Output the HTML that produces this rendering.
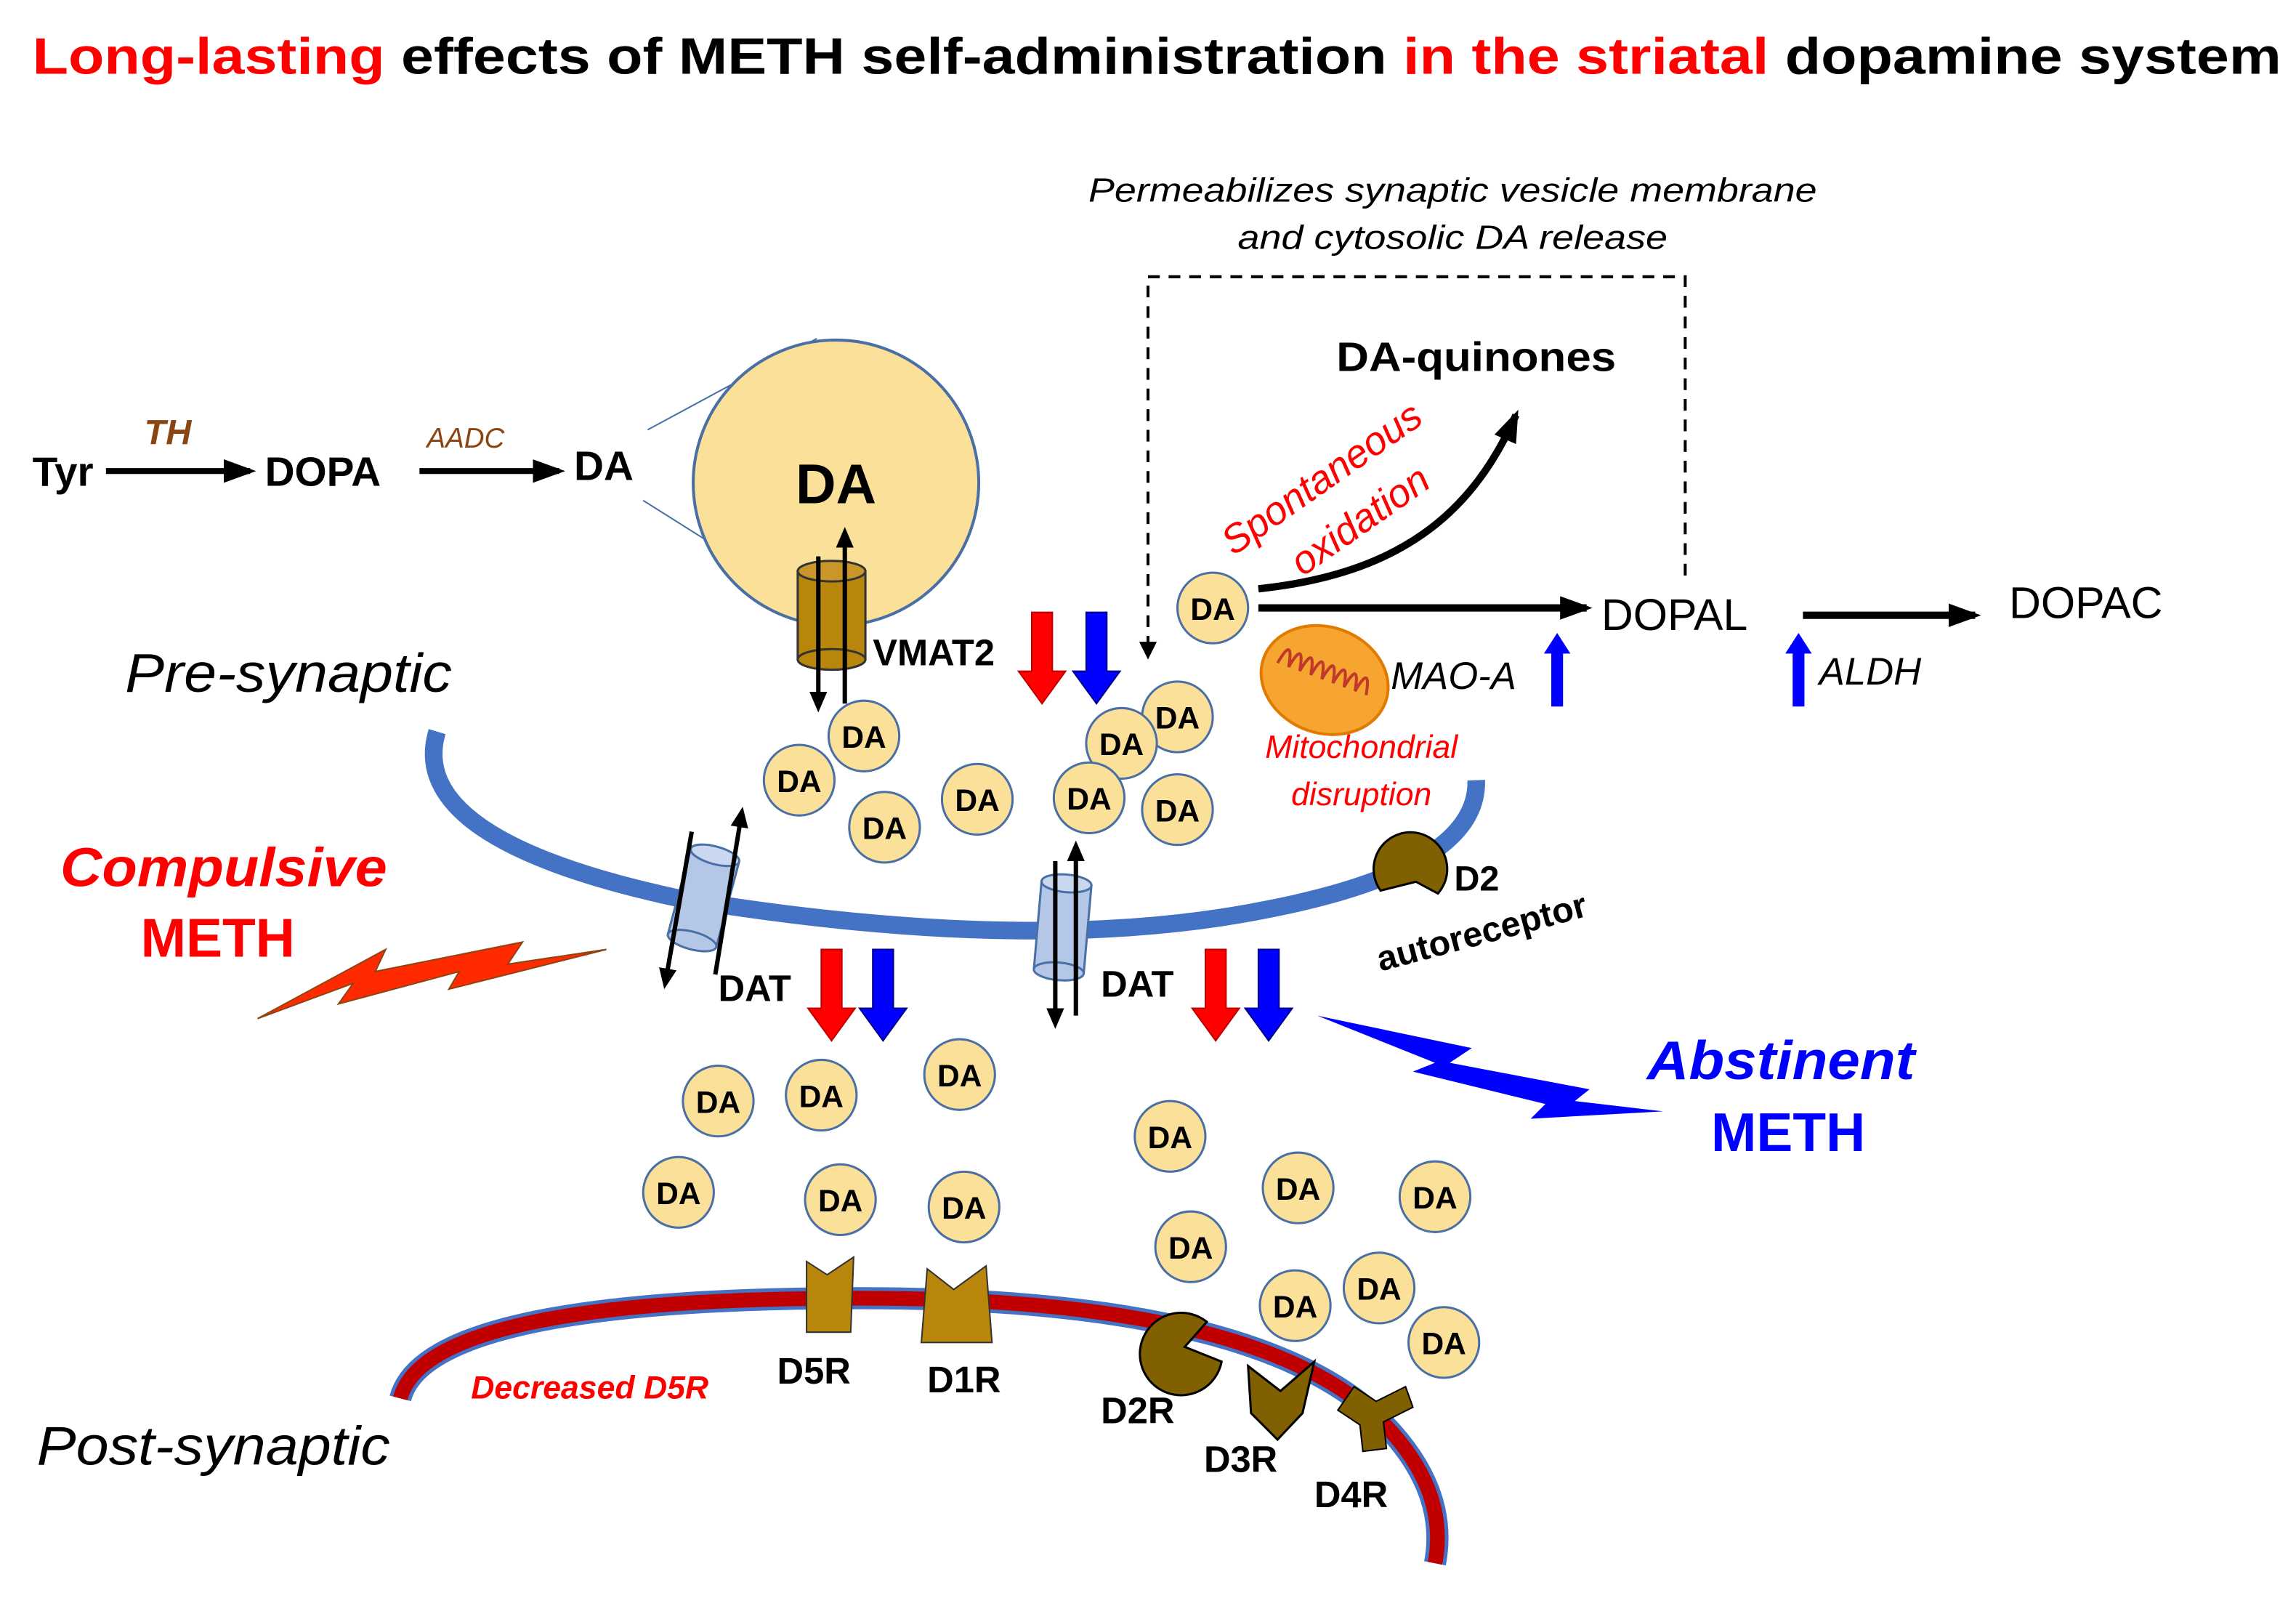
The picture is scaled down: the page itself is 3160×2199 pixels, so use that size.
<!DOCTYPE html>
<html><head><meta charset="utf-8"><style>
html,body{margin:0;padding:0;background:#fff}
svg{display:block}
text{font-family:"Liberation Sans",Arial,sans-serif}
</style></head><body>
<svg width="3160" height="2199" viewBox="0 0 1560 1085.6" preserveAspectRatio="none" xmlns="http://www.w3.org/2000/svg">
<defs>
<marker id="ah" markerWidth="22" markerHeight="18" refX="18" refY="8" orient="auto" markerUnits="userSpaceOnUse"><path d="M0,0 L22,8 L0,16 z" fill="#000"/></marker>
<marker id="ahm" markerWidth="14" markerHeight="12" refX="10" refY="6" orient="auto" markerUnits="userSpaceOnUse"><path d="M0,0 L14,6 L0,12 z" fill="#000"/></marker>
<g id="da"><circle r="24" fill="#FBE09A" stroke="#4a6fa5" stroke-width="1.5"/><text y="8" text-anchor="middle" font-size="21" font-weight="bold">DA</text></g>
<g id="rd"><path d="M-7,0 h14 v40 h9 l-16,22 l-16,-22 h9 z" fill="#ff0000" stroke="#c00000" stroke-width="1"/></g>
<g id="bd"><path d="M-7,0 h14 v40 h9 l-16,22 l-16,-22 h9 z" fill="#0000ff" stroke="#00008b" stroke-width="1"/></g>
<g id="bu"><path d="M-4,50 h8 v-36 h5 l-9,-14 l-9,14 h5 z" fill="#0000ff"/></g>
<g id="cyl"><rect x="-17" y="-30" width="34" height="60" fill="#b4c7e7" stroke="#4a6fa5" stroke-width="1.5"/><ellipse cx="0" cy="-30" rx="17" ry="6" fill="#c9d7ef" stroke="#4a6fa5" stroke-width="1.5"/><ellipse cx="0" cy="30" rx="17" ry="6" fill="#b4c7e7" stroke="#4a6fa5" stroke-width="1.5"/></g>
</defs>

<!-- Title -->
<text x="22" y="50" font-size="35" font-weight="bold" textLength="1528" lengthAdjust="spacingAndGlyphs"><tspan fill="#ff0000">Long-lasting</tspan><tspan fill="#000"> effects of METH self-administration </tspan><tspan fill="#ff0000">in the striatal</tspan><tspan fill="#000"> dopamine system</tspan></text>

<!-- synthesis -->
<text x="22" y="330" font-size="28" font-weight="bold">Tyr</text>
<text x="98" y="302" font-size="24" font-weight="bold" font-style="italic" fill="#8B4513">TH</text>
<line x1="72" y1="320" x2="170" y2="320" stroke="#000" stroke-width="4" marker-end="url(#ah)"/>
<text x="180" y="330" font-size="28" font-weight="bold">DOPA</text>
<text x="290" y="304" font-size="19" font-style="italic" fill="#8B4513">AADC</text>
<line x1="285" y1="320" x2="380" y2="320" stroke="#000" stroke-width="4" marker-end="url(#ah)"/>
<text x="390" y="326" font-size="28" font-weight="bold">DA</text>

<!-- vesicle -->
<line x1="555" y1="230" x2="440" y2="292" stroke="#4a6fa5" stroke-width="1"/>
<line x1="437" y1="340" x2="545" y2="408" stroke="#4a6fa5" stroke-width="1"/>
<circle cx="568" cy="328" r="97" fill="#FBE09A" stroke="#4a6fa5" stroke-width="2"/>
<text x="568" y="342" font-size="38" font-weight="bold" text-anchor="middle">DA</text>
<rect x="542" y="388" width="46" height="60" fill="#b8860b" stroke="#333" stroke-width="1.5"/>
<ellipse cx="565" cy="388" rx="23" ry="7" fill="#c9962a" stroke="#333" stroke-width="1.5"/>
<ellipse cx="565" cy="448" rx="23" ry="7" fill="#b8860b" stroke="#333" stroke-width="1.5"/>
<line x1="556" y1="378" x2="556" y2="480" stroke="#000" stroke-width="3" marker-end="url(#ahm)"/>
<line x1="574" y1="478" x2="574" y2="362" stroke="#000" stroke-width="3" marker-end="url(#ahm)"/>
<text x="593" y="452" font-size="25" font-weight="bold">VMAT2</text>
<use href="#rd" x="708" y="416"/>
<use href="#bd" x="745" y="416"/>

<!-- dashed box -->
<path d="M780,440 V188 H1145 V395" fill="none" stroke="#000" stroke-width="2" stroke-dasharray="8,6"/>
<path d="M774,436 L786,436 L780,448 z" fill="#000"/>
<text x="987" y="137" font-size="23" font-style="italic" text-anchor="middle" textLength="495" lengthAdjust="spacingAndGlyphs">Permeabilizes synaptic vesicle membrane</text>
<text x="987" y="169" font-size="23" font-style="italic" text-anchor="middle" textLength="292" lengthAdjust="spacingAndGlyphs">and cytosolic DA release</text>
<text x="1003" y="252" font-size="28" font-weight="bold" text-anchor="middle" textLength="190" lengthAdjust="spacingAndGlyphs">DA-quinones</text>
<path d="M855,400 C950,390 1000,350 1030,282" fill="none" stroke="#000" stroke-width="5" marker-end="url(#ah)"/>
<text transform="translate(838,378) rotate(-35)" font-size="27" font-style="italic" fill="#ff0000">Spontaneous</text>
<text transform="translate(885,392) rotate(-35)" font-size="27" font-style="italic" fill="#ff0000">oxidation</text>

<use href="#da" x="824" y="413"/>
<line x1="855" y1="413" x2="1078" y2="413" stroke="#000" stroke-width="5" marker-end="url(#ah)"/>
<text x="1088" y="428" font-size="30">DOPAL</text>
<line x1="1225" y1="418" x2="1342" y2="418" stroke="#000" stroke-width="5" marker-end="url(#ah)"/>
<text x="1365" y="420" font-size="30">DOPAC</text>

<!-- mitochondrion -->
<ellipse cx="900" cy="462" rx="44" ry="36" transform="rotate(20 900 462)" fill="#f7a531" stroke="#e07b00" stroke-width="2"/>
<path d="M866,462 q4,-22 8,0 q4,-22 8,0 q4,-22 8,0 q4,-22 8,0 q4,-22 8,0 q4,-22 8,0 q4,-22 8,0 q4,-22 8,0" fill="none" stroke="#c0392b" stroke-width="2" transform="rotate(20 900 462)"/>
<text x="945" y="468" font-size="26" font-style="italic">MAO-A</text>
<use href="#bu" x="1058" y="430"/>
<use href="#bu" x="1222" y="430"/>
<text x="1236" y="465" font-size="26" font-style="italic">ALDH</text>
<text x="925" y="515" font-size="22" font-style="italic" fill="#ff0000" text-anchor="middle">Mitochondrial</text>
<text x="925" y="547" font-size="22" font-style="italic" fill="#ff0000" text-anchor="middle">disruption</text>

<text x="85" y="470" font-size="37" font-style="italic" textLength="222" lengthAdjust="spacingAndGlyphs">Pre-synaptic</text>

<!-- presynaptic membrane -->
<path d="M297,497 Q275,570 460,610 Q700,650 860,618 Q1005,590 1003,530" fill="none" stroke="#4472c4" stroke-width="12"/>

<!-- D2 autoreceptor -->
<path d="M962,599 L938,605 A25,25 0 1 1 977,607 z" fill="#806000" stroke="#000" stroke-width="1.5"/>
<text x="988" y="605" font-size="24" font-weight="bold">D2</text>
<text transform="translate(938,660) rotate(-15)" font-size="24" font-weight="bold">autoreceptor</text>

<!-- DATs -->
<use href="#cyl" transform="translate(478,610) rotate(15)"/>
<line x1="470" y1="565" x2="452" y2="668" stroke="#000" stroke-width="3" marker-end="url(#ahm)"/>
<line x1="486" y1="662" x2="504" y2="552" stroke="#000" stroke-width="3" marker-end="url(#ahm)"/>
<use href="#cyl" transform="translate(722,630) rotate(5)"/>
<line x1="717" y1="585" x2="717" y2="695" stroke="#000" stroke-width="3" marker-end="url(#ahm)"/>
<line x1="731" y1="690" x2="731" y2="575" stroke="#000" stroke-width="3" marker-end="url(#ahm)"/>
<text x="488" y="680" font-size="25" font-weight="bold">DAT</text>
<text x="748" y="677" font-size="25" font-weight="bold">DAT</text>
<use href="#rd" x="565" y="645"/>
<use href="#bd" x="600" y="645"/>
<use href="#rd" x="826" y="645"/>
<use href="#bd" x="862" y="645"/>

<!-- presynaptic DA -->
<use href="#da" x="587" y="500"/><use href="#da" x="543" y="530"/><use href="#da" x="601" y="562"/>
<use href="#da" x="664" y="543"/><use href="#da" x="800" y="487"/><use href="#da" x="762" y="505"/>
<use href="#da" x="740" y="542"/><use href="#da" x="800" y="550"/>

<!-- synaptic DA -->
<use href="#da" x="488" y="748"/><use href="#da" x="558" y="744"/><use href="#da" x="652" y="730"/>
<use href="#da" x="461" y="810"/><use href="#da" x="571" y="815"/><use href="#da" x="655" y="820"/>
<use href="#da" x="795" y="772"/><use href="#da" x="882" y="807"/><use href="#da" x="975" y="813"/>
<use href="#da" x="809" y="847"/><use href="#da" x="880" y="887"/><use href="#da" x="937" y="875"/>
<use href="#da" x="981" y="912"/>

<!-- Compulsive -->
<text x="152" y="602" font-size="37" font-weight="bold" font-style="italic" fill="#ff0000" text-anchor="middle" textLength="222" lengthAdjust="spacingAndGlyphs">Compulsive</text>
<text x="148" y="650" font-size="37" font-weight="bold" fill="#ff0000" text-anchor="middle">METH</text>
<polygon points="175,692 262,645 255,660 355,640 345,655 412,645 305,672 312,660 230,682 240,668" fill="#ff2a00" stroke="#8B4513" stroke-width="1"/>

<!-- Abstinent -->
<text x="1210" y="733" font-size="37" font-weight="bold" font-style="italic" fill="#0000ff" text-anchor="middle" textLength="182" lengthAdjust="spacingAndGlyphs">Abstinent</text>
<text x="1215" y="782" font-size="37" font-weight="bold" fill="#0000ff" text-anchor="middle">METH</text>
<polygon points="895,690 1000,712 985,722 1080,740 1070,748 1130,755 1040,760 1050,750 960,728 975,722" fill="#0000ff"/>

<!-- postsynaptic membrane -->
<path d="M272,950 Q290,880 600,882 Q850,884 935,962 Q985,1010 975,1062" fill="none" stroke="#4472c4" stroke-width="15"/>
<path d="M272,950 Q290,880 600,882 Q850,884 935,962 Q985,1010 975,1062" fill="none" stroke="#c00000" stroke-width="10"/>
<text x="320" y="950" font-size="22" font-weight="bold" font-style="italic" fill="#ff0000">Decreased D5R</text>

<!-- receptors -->
<polygon points="548,857 562,866 580,854 578,905 548,905" fill="#b8860b" stroke="#333" stroke-width="1"/>
<polygon points="630,862 648,876 670,860 674,912 626,912" fill="#b8860b" stroke="#333" stroke-width="1"/>
<path d="M805,915 L820,898 A28,28 0 1 0 830,925 z" fill="#806000" stroke="#000" stroke-width="1.5"/>
<polygon points="848,928 870,945 893,925 885,960 868,978 850,960" fill="#806000" stroke="#000" stroke-width="1.5"/>
<path d="M920,942 l15,10 l20,-10 l5,14 l-20,10 l2,18 l-16,2 l-2,-18 l-15,-10 z" fill="#806000" stroke="#000" stroke-width="1"/>
<text x="528" y="940" font-size="25" font-weight="bold">D5R</text>
<text x="630" y="946" font-size="25" font-weight="bold">D1R</text>
<text x="748" y="967" font-size="25" font-weight="bold">D2R</text>
<text x="818" y="1000" font-size="25" font-weight="bold">D3R</text>
<text x="893" y="1024" font-size="25" font-weight="bold">D4R</text>

<text x="25" y="995" font-size="37" font-style="italic" textLength="240" lengthAdjust="spacingAndGlyphs">Post-synaptic</text>
</svg>
</body></html>
